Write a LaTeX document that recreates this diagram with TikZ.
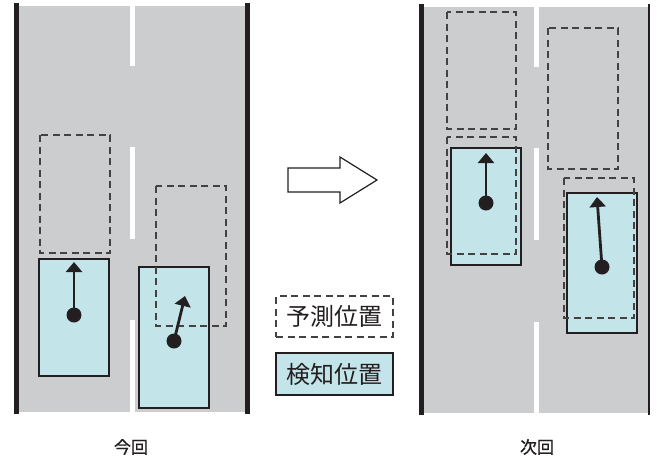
\documentclass[tikz,border=0pt]{standalone}
\usepackage{fontspec}
\setmainfont{Noto Sans CJK JP}
\newfontfamily\lblfont[FakeBold=1.2]{Noto Sans CJK JP}
\usetikzlibrary{arrows.meta}
\definecolor{road}{RGB}{204,205,207}
\definecolor{det}{RGB}{195,229,234}
\definecolor{ink}{RGB}{35,31,32}
\begin{document}
\begin{tikzpicture}[x=1pt,y=-1pt,
  roadbg/.style={fill=road,draw=none},
  edge/.style={draw=ink,line width=5pt},
  lanemark/.style={draw=white,line width=5pt},
  pred/.style={draw=ink!85,line width=1.3pt,dash pattern=on 7pt off 4.5pt},
  detbox/.style={fill=det,draw=ink,line width=1.2pt},
  dot/.style={circle,fill=ink,inner sep=0pt,minimum size=15pt},
  dir/.style={draw=ink,line width=2.8pt,-{Triangle[width=16pt,length=10pt]}},
  lbl/.style={font=\fontsize{17}{17}\selectfont\lblfont,text=ink}]
\useasboundingbox (0,0) rectangle (659,464);
% ---- left panel (今回)
\fill[roadbg] (16,6) rectangle (247,412);
\draw[edge] (16,3) -- (16,414);
\draw[edge] (247,3) -- (247,414);
\draw[lanemark] (132,6) -- (132,66);
\draw[lanemark] (132,147) -- (132,239);
\draw[lanemark] (132,320) -- (132,412);
\draw[detbox] (39,259) rectangle (109,376);
\draw[detbox] (139,267) rectangle (209,408);
\draw[pred] (40,135) rectangle (110,253);
\draw[pred] (156,186) rectangle (226,326);
\node[dot] (d1) at (74,315) {};
\coordinate (t1) at (74,262);
\draw[dir] (d1.center) -- (t1);
\node[dot] (d2) at (174,341) {};
\coordinate (t2) at (185,296);
\draw[dir] (d2.center) -- (t2);
\node[lbl] (now) at (131,447) {今回};
% ---- right panel (次回)
\fill[roadbg] (421,7) rectangle (649,413);
\draw[edge] (421,4) -- (421,415);
\draw[draw=ink,line width=2pt] (649,4) -- (649,415);
\draw[lanemark] (536,7) -- (536,67);
\draw[lanemark] (536,148) -- (536,240);
\draw[lanemark] (536,322) -- (536,413);
\draw[detbox] (451,148) rectangle (521,265);
\draw[detbox] (567,193) rectangle (637,333);
\draw[pred] (447,12) rectangle (516,129);
\draw[pred] (447,137) rectangle (516,254);
\draw[pred] (548,28) rectangle (618,169);
\draw[pred] (564,178) rectangle (634,318);
\node[dot] (d3) at (486,203) {};
\coordinate (t3) at (486,153);
\draw[dir] (d3.center) -- (t3);
\node[dot] (d4) at (602,267) {};
\coordinate (t4) at (597,197);
\draw[dir] (d4.center) -- (t4);
\node[lbl] (next) at (537,447) {次回};
% ---- hollow arrow
\draw[ink,line width=1.2pt,fill=white,line join=miter]
  (288,168) -- (340,168) -- (340,157) -- (377,180) -- (340,203) -- (340,192) -- (288,192) -- cycle;
% ---- legend
\node[pred,minimum width=117pt,minimum height=41pt,inner sep=0pt,
  font=\fontsize{24}{24}\selectfont,text=ink] (lp) at (334.5,316.5) {予測位置};
\node[detbox,minimum width=117pt,minimum height=42pt,inner sep=0pt,
  font=\fontsize{24}{24}\selectfont,text=ink] (ld) at (334.5,374) {検知位置};
\end{tikzpicture}
\end{document}
